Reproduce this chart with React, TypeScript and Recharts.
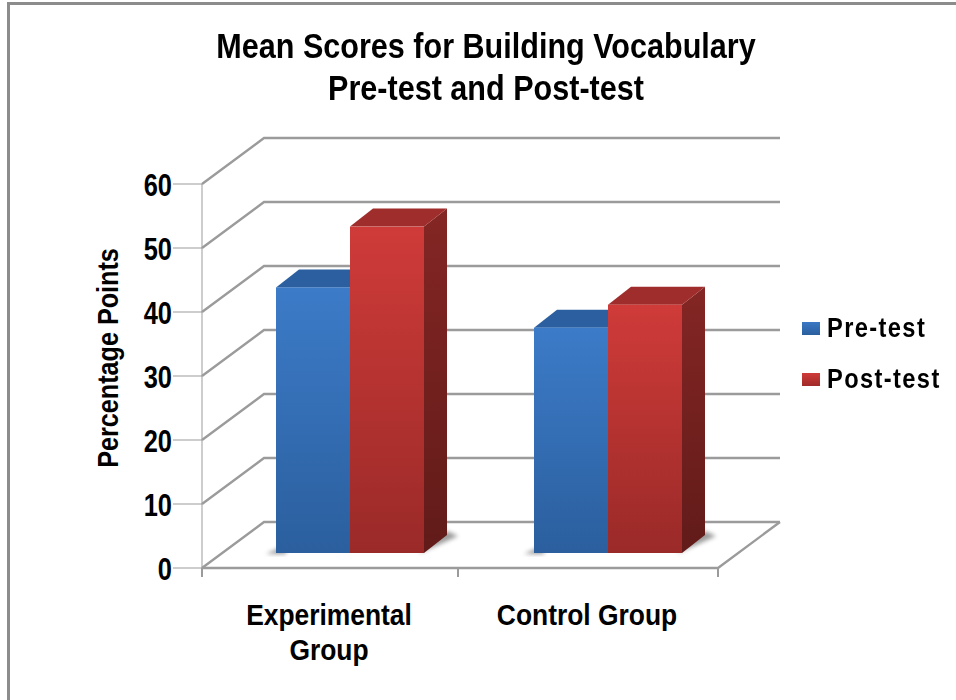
import { BarChart, Bar, XAxis, YAxis, CartesianGrid, Legend } from 'recharts';

const categories = ['Experimental Group', 'Control Group'];
const categoryLines = [['Experimental', 'Group'], ['Control Group']];
const preTest = [41.5, 35.2];
const postTest = [51, 38.8];
const yTicks = [0, 10, 20, 30, 40, 50, 60];
const titleLines = ['Mean Scores for Building Vocabulary', 'Pre-test and Post-test'];

const data = categories.map((name, i) => ({ name, pre: preTest[i], post: postTest[i] }));

const FONT = '"Liberation Sans", Arial, sans-serif';
const GRID = '#9b9b9b';
const WIDTH = 956;
const HEIGHT = 700;
const PLOT_BOTTOM = 568;
// depth of the fake 3D box
const WALL_DX = 62;
const WALL_DY = 46;
// bars stand part way into the floor
const BAR_DX = 19;
const BAR_DY = 15;
const SIDE_DX = 23;
const SIDE_DY = 18;

const GridLine = (props: any) => {
  const { x1, x2, y1 } = props;
  const isFloor = y1 >= PLOT_BOTTOM - 0.5;
  return (
    <g fill="none" stroke={GRID} strokeWidth={2.4} key={props.key}>
      <polyline points={`${x1},${y1} ${x1 + WALL_DX},${y1 - WALL_DY} ${x2 + WALL_DX},${y1 - WALL_DY}`} />
      {isFloor && <polyline points={`${x1},${y1} ${x2},${y1} ${x2 + WALL_DX},${y1 - WALL_DY}`} />}
    </g>
  );
};

// no narrow font installed, so the text is squeezed by hand
const CategoryTick = (props: any) => {
  const { x, width, index } = props;
  const band = width / categories.length;
  const lines = categoryLines[index] || [];
  const top = PLOT_BOTTOM;
  const left = x - band / 2 - (index > 0 ? 2 : 0);
  return (
    <g>
      <line x1={left} x2={left} y1={top} y2={top + 9} stroke={GRID} strokeWidth={2} />
      {index === categories.length - 1 && (
        <line x1={x + band / 2} x2={x + band / 2} y1={top} y2={top + 9} stroke={GRID} strokeWidth={2} />
      )}
      <text
        transform={`translate(${x - 2},0) scale(0.88,1)`}
        textAnchor="middle"
        fontFamily={FONT}
        fontWeight={700}
        fontSize={30}
        fill="#000"
      >
        {lines.map((l: string, i: number) => (
          <tspan key={l} x={0} y={top + 57 + i * 35}>{l}</tspan>
        ))}
      </text>
    </g>
  );
};

const ValueTick = (props: any) => {
  const { x, y, payload } = props;
  return (
    <text
      transform={`translate(${x - 1},${y + 12}) scale(0.82,1)`}
      textAnchor="end"
      fontFamily={FONT}
      fontWeight={700}
      fontSize={31}
      fill="#000"
    >
      {payload.value}
    </text>
  );
};

const AxisTitle = (props: any) => {
  const { viewBox } = props;
  return (
    <text
      transform={`translate(${viewBox.x + 58},${viewBox.y + viewBox.height / 2 - 18}) rotate(-90) scale(0.84,1)`}
      textAnchor="middle"
      fontFamily={FONT}
      fontWeight={700}
      fontSize={30}
      fill="#000"
    >
      Percentage Points
    </text>
  );
};

const makeBox = (front: string, topColor: string, side: string, shadow: 'left' | 'right') => (props: any) => {
  const { x, y, width, height } = props;
  const l = x + BAR_DX;
  const r = l + width;
  const t = y - BAR_DY;
  const b = t + height;
  const shadowPts =
    shadow === 'left'
      ? `${l - 10},${b + 1} ${l + 10},${b - 8} ${l + 10},${b + 1}`
      : `${r - 6},${b + 1} ${r + SIDE_DX + 11},${b - SIDE_DY + 1} ${r + SIDE_DX},${b - SIDE_DY - 4}`;
  return (
    <g>
      <polygon points={shadowPts} fill="#808080" opacity={0.8} filter="url(#soft)" />
      <polygon points={`${r},${t} ${r + SIDE_DX},${t - SIDE_DY} ${r + SIDE_DX},${b - SIDE_DY} ${r},${b}`} fill={side} />
      <polygon points={`${l},${t} ${l + SIDE_DX},${t - SIDE_DY} ${r + SIDE_DX},${t - SIDE_DY} ${r},${t}`} fill={topColor} />
      <rect x={l} y={t} width={width} height={height} fill={front} />
    </g>
  );
};

const PreBox = makeBox('url(#blueFront)', '#2b5f9f', 'url(#blueSide)', 'left');
const PostBox = makeBox('url(#redFront)', '#9f2d2b', 'url(#redSide)', 'right');

const legendItems = [
  { label: 'Pre-test', swatch: 'linear-gradient(#3a78c4, #2a5f9e)' },
  { label: 'Post-test', swatch: 'linear-gradient(#cf3a38, #a02b29)' },
];

const LegendBox = () => (
  <div>
    {legendItems.map((item) => (
      <div key={item.label} style={{ display: 'flex', alignItems: 'center', height: 51 }}>
        <span style={{ width: 18, height: 13, background: item.swatch, marginRight: 7, flex: 'none' }} />
        <span
          style={{
            fontFamily: FONT,
            fontWeight: 700,
            fontSize: 27,
            letterSpacing: 1.6,
            color: '#000',
            whiteSpace: 'nowrap',
            transform: 'scaleX(0.875)',
            transformOrigin: 'left center',
          }}
        >
          {item.label}
        </span>
      </div>
    ))}
  </div>
);

export default function App() {
  return (
    <div style={{ position: 'absolute', left: 0, top: 0, width: WIDTH, height: HEIGHT, background: '#fff', overflow: 'hidden' }}>
      <div style={{ position: 'absolute', left: 7, top: 2, right: 0, bottom: 0, borderLeft: '3px solid #8c8c8c', borderTop: '3px solid #8c8c8c' }} />
      <div
        style={{
          position: 'absolute',
          left: 0,
          width: 972,
          top: 25,
          textAlign: 'center',
          fontFamily: FONT,
          fontWeight: 700,
          fontSize: 35,
          lineHeight: '42px',
          color: '#000',
          transform: 'scaleX(0.873)',
        }}
      >
        {titleLines.map((t) => (
          <div key={t}>{t}</div>
        ))}
      </div>
      <BarChart
        width={WIDTH}
        height={HEIGHT}
        data={data}
        barGap={0}
        barCategoryGap={55}
        margin={{ top: 184, right: 84, bottom: 52, left: 60 }}
        style={{ position: 'absolute', left: 0, top: 0 }}
      >
        <defs>
          <linearGradient id="blueFront" x1="0" y1="0" x2="0" y2="1">
            <stop offset="0%" stopColor="#3c7bc8" />
            <stop offset="100%" stopColor="#2b5f9e" />
          </linearGradient>
          <linearGradient id="redFront" x1="0" y1="0" x2="0" y2="1">
            <stop offset="0%" stopColor="#cf3b39" />
            <stop offset="100%" stopColor="#9a2a28" />
          </linearGradient>
          <linearGradient id="blueSide" x1="0" y1="0" x2="0" y2="1">
            <stop offset="0%" stopColor="#27558e" />
            <stop offset="100%" stopColor="#1d4372" />
          </linearGradient>
          <linearGradient id="redSide" x1="0" y1="0" x2="0" y2="1">
            <stop offset="0%" stopColor="#842624" />
            <stop offset="100%" stopColor="#611b19" />
          </linearGradient>
          <filter id="soft" x="-30%" y="-30%" width="160%" height="160%">
            <feGaussianBlur stdDeviation="2" />
          </filter>
        </defs>
        <CartesianGrid vertical={false} horizontal={GridLine as any} />
        <XAxis
          dataKey="name"
          axisLine={false}
          tickLine={false}
          height={80}
          interval={0}
          tick={CategoryTick as any}
        />
        <YAxis
          width={142}
          domain={[0, 60]}
          ticks={yTicks}
          interval={0}
          stroke={GRID}
          tickSize={29}
          tickMargin={0}
          tick={ValueTick as any}
          label={AxisTitle as any}
        />
        <Legend
          layout="vertical"
          align="right"
          verticalAlign="top"
          width={154}
          content={LegendBox as any}
          wrapperStyle={{ left: 802, top: 303, right: 'auto', width: 154 }}
        />
        <Bar dataKey="pre" name="Pre-test" shape={PreBox} isAnimationActive={false} />
        <Bar dataKey="post" name="Post-test" shape={PostBox} isAnimationActive={false} />
      </BarChart>
    </div>
  );
}
